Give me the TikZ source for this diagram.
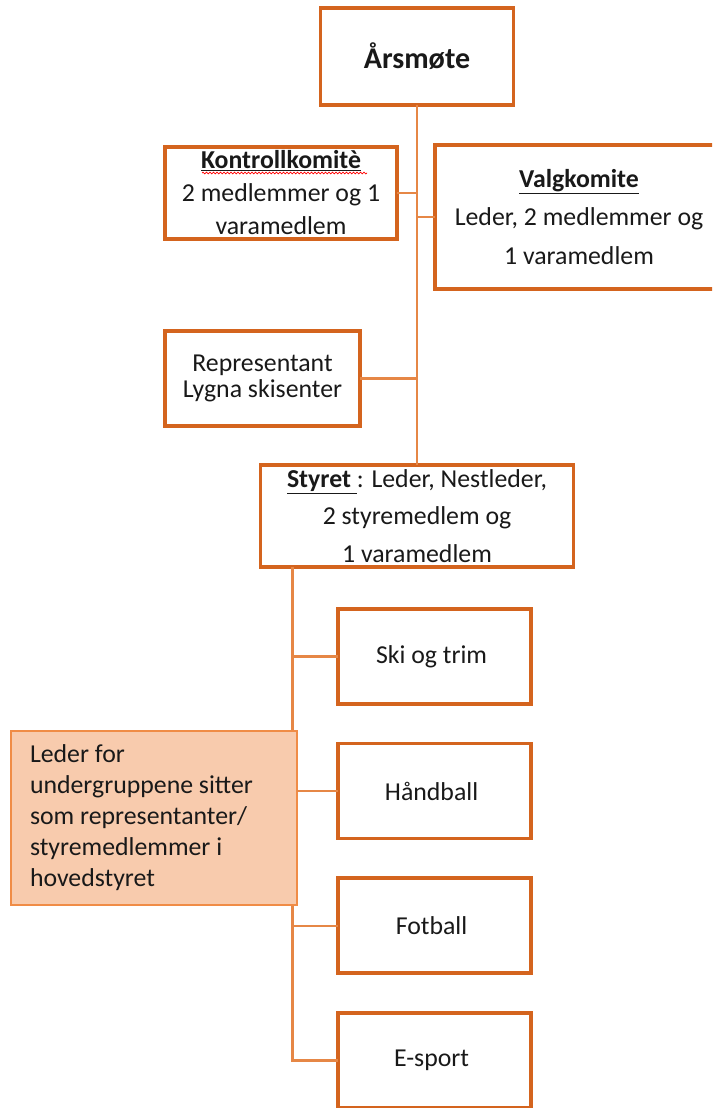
\documentclass[tikz,border=0pt]{standalone}
\usepackage{fontspec}
\setmainfont{Carlito}
\usetikzlibrary{matrix,calc,decorations.pathmorphing}

\definecolor{boxorange}{RGB}{212,100,30}
\definecolor{lineorange}{RGB}{230,135,70}
\definecolor{notefill}{RGB}{248,203,173}
\definecolor{noteline}{RGB}{240,140,70}

\begin{document}
\begin{tikzpicture}[
    x=1pt, y=-1pt,
    orgbox/.style={draw=boxorange, line width=3.6pt, fill=white, inner sep=0pt, outer sep=0pt, align=center, text=black!90},
    unitbox/.style={orgbox, minimum width=193pt, minimum height=95pt, font=\fontsize{25.8}{31}\selectfont},
    notebox/.style={draw=noteline, line width=2pt, fill=notefill, inner xsep=19pt, inner ysep=0pt, outer sep=0pt, text width=248pt, minimum height=174pt, align=flush left, text=black!90, font=\fontsize{25.8}{31}\selectfont},
    link/.style={lineorange, line width=2.4pt},
    spell/.style={red, line width=0.7pt, decorate, decoration={snake, amplitude=0.9pt, segment length=3.5pt}}
  ]
    \useasboundingbox (0,0) rectangle (712,1108);
    \clip (0,0) rectangle (712,1108);

    % Årsmøte og komiteer
    \node[orgbox, minimum width=193pt, minimum height=97pt, font=\fontsize{30}{36}\selectfont\bfseries] (arsmote) at (417,56.5) {Årsmøte};
    \node[orgbox, minimum width=232pt, minimum height=92pt, font=\fontsize{25.8}{33}\selectfont] (kontroll) at (281,193) {\underline{\textbf{Kontrollkomitè}}\\2 medlemmer og 1\\varamedlem};
    \node[orgbox, minimum width=288pt, minimum height=144pt, font=\fontsize{25.8}{38.5}\selectfont] (valg) at (579,217) {\underline{\textbf{Valgkomite}}\\Leder, 2 medlemmer og\\1 varamedlem};
    \node[orgbox, minimum width=195pt, minimum height=95pt, font=\fontsize{25.8}{26}\selectfont] (rep) at (262.5,378.5) {Representant\\Lygna skisenter};
    \draw[spell] ($(kontroll.north)+(-79,26)$) -- ($(kontroll.north)+(86,26)$);

    % Styret
    \node[orgbox, minimum width=313pt, minimum height=102pt, font=\fontsize{25.8}{37.5}\selectfont] (styret) at (417,516) {\underline{\textbf{Styret }}: Leder, Nestleder,\\2 styremedlem og\\1 varamedlem};

    % Undergrupper
    \matrix (groups) [
      matrix of nodes,
      nodes={unitbox},
      row sep=36pt,
      inner sep=0pt,
      anchor=north
    ] at (434.5,607) {
      Ski og trim \\
      Håndball \\
      Fotball \\
      E-sport \\
    };

    % Linjer
    \draw[link] (arsmote.south) -- (styret.north);
    \draw[link] (kontroll.east) -- (kontroll.east -| arsmote.south);
    \draw[link] (valg.west) -- (valg.west -| arsmote.south);
    \draw[link] (rep.east) -- (rep.east -| arsmote.south);
    \coordinate (stem) at ([xshift=32pt]styret.south west);
    \draw[link] (stem) |- (groups-4-1.west);
    \draw[link] (groups-1-1.west) -- (groups-1-1.west -| stem);
    \draw[link] (groups-3-1.west) -- (groups-3-1.west -| stem);

    \node[notebox] (leder) at (154,818) {Leder for\\undergruppene sitter\\som representanter/\\styremedlemmer i\\hovedstyret};
    \draw[link] (groups-2-1.west) -- (groups-2-1.west -| leder.east);
  \end{tikzpicture}
\end{document}
